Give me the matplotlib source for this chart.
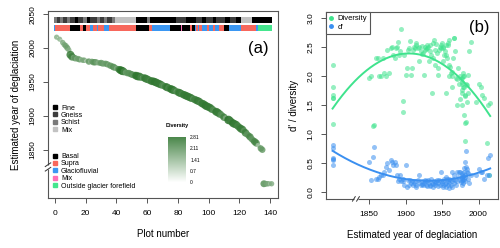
import numpy as np
import matplotlib
matplotlib.use('Agg')
import matplotlib.pyplot as plt
from matplotlib.colors import LinearSegmentedColormap, Normalize
from matplotlib.lines import Line2D

plt.rcParams['font.family'] = ['Liberation Sans', 'DejaVu Sans']

# plot number -> estimated year of deglaciation (plots outside the forefield sit at 1800)
plot_number = list(range(1, 142))
year = [2016, 2015, 2013, 2011, 2008, 2005, 2003, 2000, 1997,
        1990, 1987,
        1986, 1985, 1984, 1984, 1983, 1983, 1982, 1982, 1981, 1981, 1980, 1980,
        1980, 1979, 1979, 1979, 1978, 1978, 1978, 1977, 1977, 1977, 1976, 1975,
        1974, 1973, 1972, 1971, 1970, 1969, 1968, 1967, 1966, 1965, 1964, 1963,
        1963, 1962, 1961, 1960, 1960, 1959, 1958, 1958, 1957, 1956, 1956, 1955, 1954,
        1953, 1952, 1951, 1951, 1950, 1949, 1948, 1947, 1946, 1945, 1944, 1943,
        1942, 1941, 1940,
        1939, 1938, 1937, 1936, 1935, 1934, 1933, 1932, 1931, 1930, 1929, 1928,
        1927, 1926, 1925, 1924, 1923, 1922,
        1921, 1919, 1918, 1917, 1915, 1914, 1913, 1912, 1910, 1909, 1907, 1906,
        1905, 1903,
        1902, 1900, 1898, 1897, 1896, 1894, 1893, 1891, 1889, 1888, 1887, 1885, 1883,
        1881, 1880, 1878, 1875, 1873, 1871, 1869,
        1866, 1864, 1862, 1860, 1857, 1855, 1852, 1850,
        1800, 1800, 1800, 1800, 1800, 1800]

diversity = [1.53, 0.30, 1.50, 0.84, 1.62, 1.67, 1.81, 1.85, 1.55,
             2.59, 2.42,
             1.70, 2.02, 1.55, 1.84, 1.85, 1.21, 1.65, 1.67, 0.87, 1.19, 2.00, 1.33,
             1.80, 1.99, 2.05, 1.80, 1.50, 1.70, 1.96, 1.90, 1.75, 1.85, 1.95, 1.60,
             1.99, 1.85, 2.13, 1.95, 1.50, 1.96, 2.42, 2.65, 2.65, 2.30, 1.81, 2.00,
             2.07, 2.05, 2.15, 1.99, 2.19, 2.62, 2.56, 2.53, 2.30, 1.70, 2.36, 2.53, 2.42,
             2.36, 2.25, 2.50, 2.48, 2.56, 2.53, 2.48, 2.50, 2.45, 2.13, 2.02, 2.40,
             2.55, 2.19, 2.44,
             2.62, 2.56, 2.30, 1.70, 2.36, 2.53, 2.42, 2.25, 2.50, 2.48, 2.53, 2.46,
             2.50, 2.45, 2.02, 2.40, 2.38, 2.52,
             2.42, 2.25, 2.50, 2.48, 2.56, 2.53, 2.48, 2.50, 2.45, 2.13, 2.02, 2.60,
             2.47, 2.45,
             2.13, 2.02, 2.36, 1.56, 1.38, 2.81, 2.42, 2.36, 2.59, 2.50, 2.48, 2.30, 2.36,
             2.50, 2.48, 2.05, 2.45, 1.99, 2.05, 2.30,
             1.99, 1.99, 2.30, 2.30, 1.15, 1.13, 1.99, 1.96,
             2.19, 1.81, 1.67, 1.62, 1.17, 1.62]

d_prime = [0.64, 0.29, 0.58, 0.29, 0.23, 0.35, 0.35, 0.40, 0.30,
           0.29, 0.15,
           0.32, 0.23, 0.35, 0.40, 0.43, 0.70, 0.25, 0.52, 0.30, 0.18, 0.41, 0.22,
           0.35, 0.21, 0.27, 0.15, 0.33, 0.24, 0.12, 0.30, 0.20, 0.26, 0.17, 0.35,
           0.21, 0.35, 0.26, 0.18, 0.35, 0.12, 0.21, 0.29, 0.15, 0.23, 0.09, 0.18,
           0.35, 0.12, 0.21, 0.15, 0.23, 0.06, 0.18, 0.12, 0.23, 0.15, 0.09, 0.26, 0.14,
           0.23, 0.09, 0.12, 0.18, 0.15, 0.18, 0.35, 0.12, 0.21, 0.15, 0.10, 0.21,
           0.17, 0.12, 0.15,
           0.18, 0.09, 0.13, 0.15, 0.23, 0.11, 0.12, 0.15, 0.21, 0.18, 0.10, 0.12,
           0.21, 0.18, 0.16, 0.12, 0.18, 0.14,
           0.12, 0.29, 0.15, 0.21, 0.09, 0.12, 0.18, 0.15, 0.12, 0.18, 0.15, 0.21,
           0.12, 0.21,
           0.09, 0.47, 0.12, 0.18, 0.23, 0.18, 0.30, 0.23, 0.18, 0.29, 0.47, 0.52, 0.47,
           0.52, 0.55, 0.38, 0.49, 0.43, 0.35, 0.29,
           0.29, 0.25, 0.23, 0.23, 0.78, 0.60, 0.21, 0.52,
           0.81, 0.76, 0.59, 0.57, 0.47, 0.55]

# strips on top of panel (a): category and number of consecutive plots
bedrock_runs = [("Schist", 2), ("Gneiss", 2), ("Schist", 2), ("Gneiss", 3), ("Schist", 2),
                ("Gneiss", 3), ("Fine", 2), ("Gneiss", 3), ("Schist", 3), ("Fine", 2),
                ("Gneiss", 4), ("Schist", 2), ("Gneiss", 3), ("Schist", 2), ("Gneiss", 3),
                ("Schist", 2), ("Mix", 14), ("Fine", 7), ("Schist", 2), ("Fine", 17),
                ("Gneiss", 6), ("Fine", 7), ("Gneiss", 4), ("Fine", 2), ("Gneiss", 5),
                ("Fine", 2), ("Gneiss", 6), ("Fine", 3), ("Gneiss", 4), ("Fine", 3),
                ("Mix", 7), ("Fine", 13)]
source_runs = [("Glaciofluvial", 1), ("Supra", 10), ("Basal", 6), ("Supra", 2), ("Basal", 2),
               ("Supra", 3), ("Glaciofluvial", 2), ("Supra", 2), ("Glaciofluvial", 1),
               ("Supra", 4), ("Glaciofluvial", 3), ("Supra", 18), ("Basal", 8), ("Supra", 2),
               ("Glaciofluvial", 12), ("Basal", 7), ("Mix", 1), ("Basal", 5), ("Supra", 1),
               ("Basal", 2), ("Glaciofluvial", 1), ("Supra", 1), ("Glaciofluvial", 1),
               ("Supra", 2), ("Glaciofluvial", 3), ("Supra", 1), ("Glaciofluvial", 3),
               ("Supra", 1), ("Glaciofluvial", 3), ("Supra", 3), ("Basal", 3),
               ("Glaciofluvial", 8), ("Supra", 10), ("Glaciofluvial", 1),
               ("Outside glacier forefield", 9)]

bedrock_labels = ["Fine", "Gneiss", "Schist", "Mix"]
source_labels = ["Basal", "Supra", "Glaciofluvial", "Mix", "Outside glacier forefield"]
bedrock_colors = {"Fine": "#000000", "Gneiss": "#3c3c3c", "Schist": "#7a7a7a", "Mix": "#c2c2c2"}
source_colors = {"Basal": "#000000", "Supra": "#f7675c", "Glaciofluvial": "#3b97f2",
                 "Mix": "#ff6fb7", "Outside glacier forefield": "#45e68e"}
cbar_ticks = [0, 0.7, 1.41, 2.11, 2.81]

GREEN = "#3fe38d"
BLUE = "#3a8ff0"


def draw_strip(ax, runs, colors, y0, height):
    start = -1.0
    for name, n in runs:
        ax.barh(y0 + height / 2, n, left=start, height=height, color=colors[name],
                linewidth=0, zorder=1)
        start += n


def axis_break(ax, pos, axis):
    # small white gap with two slanted strokes, like plotrix::axis.break
    g = 0.012
    if axis == 'y':
        ax.plot([0, 0], [pos - g, pos + g], color='white', lw=2.5, transform=ax.transAxes,
                clip_on=False, zorder=5, solid_capstyle='butt')
        for p in (pos - g, pos + g):
            ax.plot([-0.012, 0.012], [p - 0.01, p + 0.01], color='#333333', lw=0.7,
                    transform=ax.transAxes, clip_on=False, zorder=6)
    else:
        ax.plot([pos - g, pos + g], [0, 0], color='white', lw=2.5, transform=ax.transAxes,
                clip_on=False, zorder=5, solid_capstyle='butt')
        for p in (pos - g, pos + g):
            ax.plot([p - 0.008, p + 0.008], [-0.012, 0.012], color='#333333', lw=0.7,
                    transform=ax.transAxes, clip_on=False, zorder=6)


def style_axes(ax):
    for s in ax.spines.values():
        s.set_color('#555555')
        s.set_linewidth(0.8)
    ax.tick_params(direction='out', length=3.5, width=0.7, color='#555555',
                   labelsize=6, pad=5)
    for lbl in ax.get_yticklabels():
        lbl.set_rotation(90)
        lbl.set_va('center')


fig = plt.figure(figsize=(5.0, 2.48), dpi=100)

# ---- panel (a)
ax1 = fig.add_axes([0.096, 0.2016, 0.46, 0.754])
cmap = LinearSegmentedColormap.from_list("div", ["#ffffff", "#1d6a1d"])
norm = Normalize(0, max(cbar_ticks))

div = np.array(diversity)
size_px = 1.2 + 2.6 * div
ax1.scatter(plot_number, year, s=(0.72 * size_px) ** 2, c=div, cmap=cmap, norm=norm,
            alpha=0.8, linewidths=0, zorder=3)

draw_strip(ax1, bedrock_runs, bedrock_colors, 2037, 9)
draw_strip(ax1, source_runs, source_colors, 2025.5, 8.5)

ax1.set_xlim(-4.6, 145.2)
ax1.set_ylim(1779, 2054.5)
ax1.set_xticks([0, 20, 40, 60, 80, 100, 120, 140])
ax1.set_yticks([1850, 1900, 1950, 2000, 2050])
style_axes(ax1)
ax1.set_xlabel("Plot number", fontsize=7, labelpad=9)
ax1.set_ylabel("Estimated year of deglaciation", fontsize=7, labelpad=6)
ax1.text(0.915, 0.80, "(a)", transform=ax1.transAxes, fontsize=12, ha='center', va='center')
axis_break(ax1, 0.166, 'y')

h1 = [Line2D([], [], marker='s', ls='', ms=2.6, color=bedrock_colors[k]) for k in bedrock_labels]
leg1 = ax1.legend(h1, bedrock_labels, loc='upper left', bbox_to_anchor=(0.02, 0.50),
                  frameon=False, fontsize=5, labelspacing=0.05, handlelength=0.6,
                  handletextpad=0.6, borderpad=0, borderaxespad=0)
ax1.add_artist(leg1)
h2 = [Line2D([], [], marker='s', ls='', ms=2.6, color=source_colors[k]) for k in source_labels]
ax1.legend(h2, source_labels, loc='upper left', bbox_to_anchor=(0.02, 0.24),
           frameon=False, fontsize=5, labelspacing=0.05, handlelength=0.6,
           handletextpad=0.6, borderpad=0, borderaxespad=0)

# colour bar for diversity
cax = fig.add_axes([0.336, 0.266, 0.036, 0.181])
grad = np.linspace(0, max(cbar_ticks), 256).reshape(-1, 1)
cax.imshow(grad, aspect='auto', cmap=cmap, norm=norm, origin='lower', alpha=0.8,
           extent=[0, 1, 0, max(cbar_ticks)])
cax.set_xticks([])
cax.yaxis.tick_right()
cax.set_yticks(cbar_ticks)
cax.set_yticklabels([str(t) for t in cbar_ticks])
cax.tick_params(axis='y', length=0, labelsize=3.5, pad=3)
for s in cax.spines.values():
    s.set_visible(False)
cax.set_title("Diversity", fontsize=4, fontweight='bold', pad=7)

# ---- panel (b)
ax2 = fig.add_axes([0.652, 0.198, 0.344, 0.754])
yr = np.array(year)
ax2.scatter(yr, diversity, s=13, color=GREEN, alpha=0.55, linewidths=0, zorder=3)
ax2.scatter(yr, d_prime, s=13, color=BLUE, alpha=0.55, linewidths=0, zorder=3)

xs = np.linspace(yr.min(), yr.max(), 200)
for vals, col in ((diversity, GREEN), (d_prime, BLUE)):
    coef = np.polyfit(yr, vals, 2)
    ax2.plot(xs, np.polyval(coef, xs), color=col, lw=1.4, zorder=4)

ax2.set_xlim(1791, 2026.7)
ax2.set_ylim(-0.12, 3.1)
ax2.set_xticks([1850, 1900, 1950, 2000])
ax2.set_yticks([0.0, 0.5, 1.0, 1.5, 2.0, 2.5, 3.0])
style_axes(ax2)
ax2.set_xlabel("Estimated year of deglaciation", fontsize=7, labelpad=9)
ax2.set_ylabel("d' / diversity", fontsize=7, labelpad=6)
ax2.text(0.89, 0.915, "(b)", transform=ax2.transAxes, fontsize=12, ha='center', va='center')
axis_break(ax2, 0.174, 'x')

h3 = [Line2D([], [], marker='o', ls='', ms=2.5, color=GREEN),
      Line2D([], [], marker='o', ls='', ms=2.5, color=BLUE)]
leg3 = ax2.legend(h3, ["Diversity", "d'"], loc='upper left', fontsize=5.5, fancybox=False,
                  framealpha=1, edgecolor='#555555', borderaxespad=0, borderpad=0.4,
                  labelspacing=0.15, handlelength=0.6, handletextpad=0.5)
leg3.get_frame().set_linewidth(0.8)

plt.savefig("out.png", dpi=100)
plt.close()
